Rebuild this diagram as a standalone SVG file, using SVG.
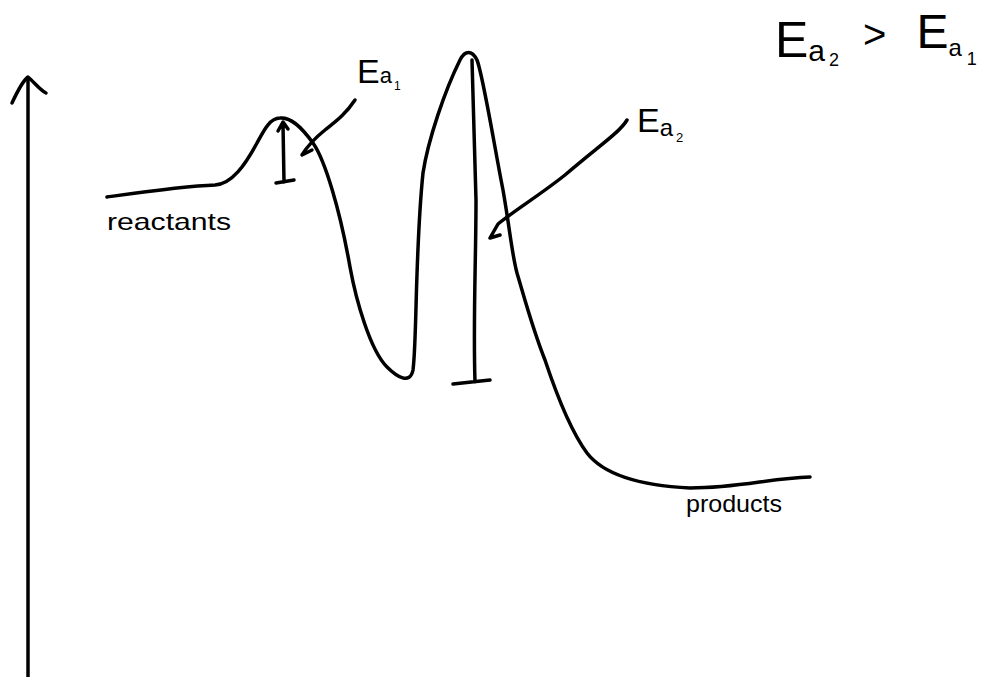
<svg xmlns="http://www.w3.org/2000/svg" width="988" height="677" viewBox="0 0 988 677">
<style>
.ink{fill:none;stroke:#000;stroke-width:3.5;stroke-linecap:round;stroke-linejoin:round}
.lbl{font-family:"Liberation Sans",Arial,sans-serif;fill:#000}
</style>
<rect width="988" height="677" fill="#fff"/>
<g id="axis">
<path class="ink" d="M28,677 L28,78"/>
<path class="ink" d="M12,103 C18,90 24,80 28,77 C34,82 40,90 46,93"/>
</g>
<g id="energy-curve">
<path class="ink" d="M107,197 C150,191 185,186 215,185 C232,184 245,165 257,143 C264,130 270,118 280,118 C290,117 300,125 313,143 C325,160 340,210 350,267 C356,300 370,350 387,367 C397,377 410,385 413,370 C417,340 415,250 423,173 C428,140 445,90 460,60 C465,50 472,50 477,60 C483,75 495,150 503,190 C510,230 512,255 517,273 C525,300 533,330 545,360 C555,390 570,430 587,453 C600,470 630,485 690,488 C740,488 770,478 810,477"/>
</g>
<g id="connectors">
<path class="ink" d="M283,124 L284,182 M276,183 L294,180 M278,131 L283,122 L288,129"/>
<path class="ink" d="M472,60 C473,100 475,150 476,200 C476,260 473,320 475,382 M453,384 L490,380"/>
<path class="ink" d="M355,100 C345,115 335,122 325,130 C315,138 308,145 302,155 L312,150"/>
<path class="ink" d="M627,120 C620,132 600,145 565,175 C540,195 515,210 498,224 L490,238 L500,235"/>
</g>
<g id="label-ea1">
<text class="lbl" x="357" y="83" font-size="34">E<tspan font-size="22">a</tspan><tspan font-size="12" dx="2" dy="7">1</tspan></text>
</g>
<g id="label-ea2">
<text class="lbl" x="637" y="132" font-size="34">E<tspan font-size="24" dy="4">a</tspan><tspan font-size="13" dx="3" dy="6">2</tspan></text>
</g>
<g id="label-compare">
<text class="lbl" x="775" y="57" font-size="50">E<tspan font-size="30" dy="4">a</tspan><tspan font-size="18" dx="4" dy="5">2</tspan><tspan font-size="40" dx="24" dy="-18">&gt;</tspan><tspan font-size="48" dx="30" dy="0">E</tspan><tspan font-size="24" dy="8">a</tspan><tspan font-size="18" dx="5" dy="9">1</tspan></text>
</g>
<g id="label-reactants">
<text class="lbl" x="107" y="230" font-size="24" textLength="124" lengthAdjust="spacingAndGlyphs">reactants</text>
</g>
<g id="label-products">
<text class="lbl" x="686" y="512" font-size="24" textLength="96" lengthAdjust="spacingAndGlyphs">products</text>
</g>
</svg>
